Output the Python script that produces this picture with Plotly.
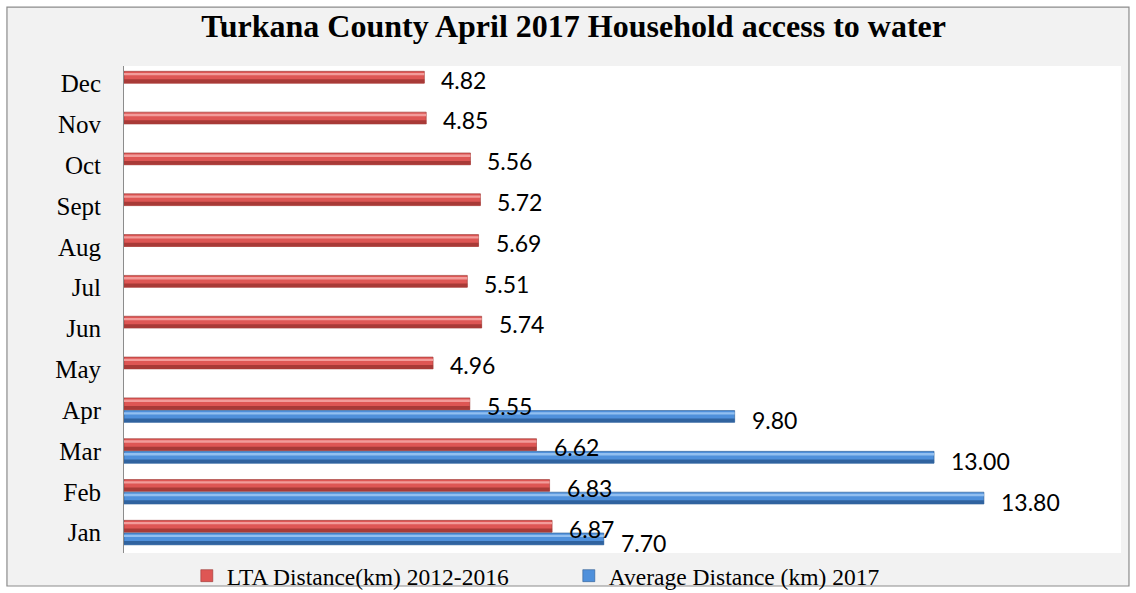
import plotly.graph_objects as go

# Monthly average distance to water source (km)
months = ["Jan", "Feb", "Mar", "Apr", "May", "Jun", "Jul", "Aug", "Sept", "Oct", "Nov", "Dec"]
lta_2012_2016 = [6.87, 6.83, 6.62, 5.55, 4.96, 5.74, 5.51, 5.69, 5.72, 5.56, 4.85, 4.82]
avg_2017 = [7.70, 13.80, 13.00, 9.80, None, None, None, None, None, None, None, None]

lta_name = "LTA Distance(km) 2012-2016"
avg_name = "Average Distance (km) 2017"

SERIF = "Liberation Serif, Times New Roman, serif"
SANS = "Lato, Carlito, sans-serif"

fig = go.Figure()

# Cylinder-style bars: a base bar with a dark lower band and a light upper band
def add_bar(values, name, offset, width, base_col, dark_col, light_col, line_col, rank):
    fig.add_trace(go.Bar(
        y=months, x=values, orientation="h", name=name,
        offset=offset, width=width,
        marker=dict(color=base_col, line=dict(color=line_col, width=0.6)),
        legendrank=rank, hoverinfo="x+y",
    ))
    fig.add_trace(go.Bar(
        y=months, x=values, orientation="h", showlegend=False,
        offset=offset, width=width * 0.32,
        marker=dict(color=dark_col, line=dict(width=0)), hoverinfo="skip",
    ))
    fig.add_trace(go.Bar(
        y=months, x=values, orientation="h", showlegend=False,
        offset=offset + width * 0.66, width=width * 0.2,
        marker=dict(color=light_col, line=dict(width=0)), hoverinfo="skip",
    ))

add_bar(lta_2012_2016, lta_name, 0.01, 0.29, "#DE5654", "#A83A37", "#F29C9A", "#9A3532", 1)
add_bar(avg_2017, avg_name, -0.30, 0.29, "#4F90DB", "#30639F", "#92BFF0", "#2E5C92", 2)

# Value labels beside each bar end
for m, v in zip(months, lta_2012_2016):
    fig.add_annotation(x=v, y=m, text=f"{v:.2f}", xanchor="left", yanchor="middle",
                       xshift=15, yshift=4, showarrow=False,
                       font=dict(family=SANS, size=23, color="#000"))
for m, v in zip(months, avg_2017):
    if v is None:
        continue
    fig.add_annotation(x=v, y=m, text=f"{v:.2f}", xanchor="left", yanchor="middle",
                       xshift=15, yshift=-10, showarrow=False,
                       font=dict(family=SANS, size=23, color="#000"))

# Chart frame and white plot area
fig.add_shape(type="rect", xref="paper", yref="paper",
              x0=-0.1174, x1=1.008, y0=-0.0678, y1=1.121,
              fillcolor="#F2F2F2", line=dict(color="#8C8C8C", width=1.2), layer="below")
fig.add_shape(type="rect", xref="paper", yref="paper",
              x0=0, x1=1, y0=0, y1=1,
              fillcolor="#FFFFFF", line=dict(width=0), layer="below")

fig.update_layout(
    width=1136, height=593,
    margin=dict(l=124, r=15, t=66, b=40, autoexpand=False),
    paper_bgcolor="#FFFFFF", plot_bgcolor="#FFFFFF",
    barmode="overlay",
    title=dict(text="<b>Turkana County April 2017 Household access to water</b>",
               x=0.505, xref="container", xanchor="center", y=0.957, yanchor="middle",
               font=dict(family=SERIF, size=32, color="#000")),
    xaxis=dict(range=[0, 16], showticklabels=False, showgrid=False, zeroline=False,
               showline=False, ticks=""),
    yaxis=dict(type="category", categoryorder="array", categoryarray=months,
               range=[-0.5, 11.43], showgrid=False, zeroline=False,
               showline=True, linecolor="#8C8C8C", linewidth=1, ticks="",
               ticklabelstandoff=17,
               tickfont=dict(family=SERIF, size=25, color="#000")),
    legend=dict(orientation="h", x=0.063, xanchor="left", y=-0.047, yanchor="middle",
                bgcolor="rgba(0,0,0,0)", entrywidth=337, entrywidthmode="pixels",
                itemwidth=30,
                font=dict(family=SERIF, size=23.5, color="#000")),
    showlegend=True,
)

fig.write_html("out.html")
